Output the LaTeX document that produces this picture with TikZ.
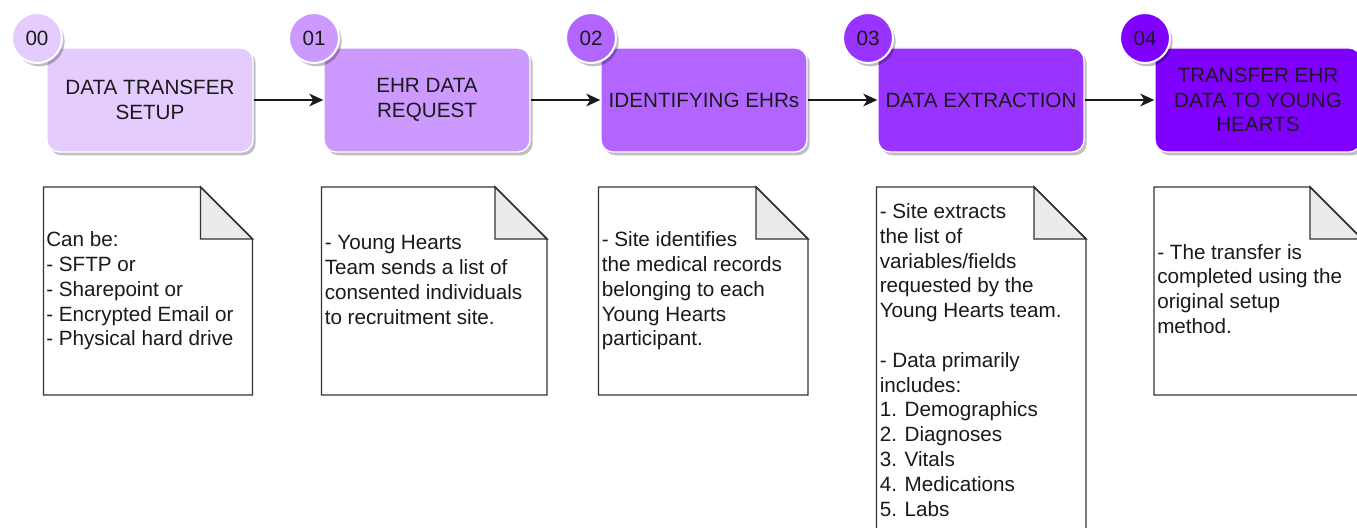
\documentclass[tikz,border=0pt]{standalone}
\usepackage{fontspec}
\setmainfont{Liberation Sans}
\usetikzlibrary{arrows.meta,shadows}
\definecolor{pa}{HTML}{E5CCFF}
\definecolor{pb}{HTML}{CC99FF}
\definecolor{pc}{HTML}{B266FF}
\definecolor{pd}{HTML}{9933FF}
\definecolor{pe}{HTML}{7F00FF}
\definecolor{docline}{HTML}{333333}
\definecolor{foldgray}{HTML}{EBEBEB}
\definecolor{ink}{HTML}{1A1A1A}
\begin{document}
\begin{tikzpicture}[x=0.75pt,y=-0.75pt,
  txt/.style={font=\fontsize{15.5}{18.6}\selectfont, text=ink},
  softshadow/.style={drop shadow={shadow xshift=2pt,shadow yshift=-2.5pt,opacity=0.25,fill=black}},
  stepbox/.style={txt, rounded corners=9pt, draw=white, line width=1pt,
    minimum width=154.5pt, minimum height=78pt, align=center, inner sep=0pt, softshadow},
  numcirc/.style={txt, circle, draw=white, line width=1.5pt, minimum size=37.5pt,
    inner sep=0pt, softshadow},
  docshape/.style={draw=docline, line width=1.1pt, fill=white, line join=miter},
  foldshape/.style={draw=docline, line width=1.1pt, fill=foldgray, line join=miter},
  doctext/.style={txt, anchor=west, align=left, inner sep=0pt},
  flow/.style={-{Stealth[length=10.5pt,width=9.5pt,inset=3pt]}, line width=1.4pt, draw=ink}]
\useasboundingbox (0,0) rectangle (1357,528);
\clip (0,0) rectangle (1357,528);

% step boxes
\node[stepbox, fill=pa] (b0) at (150,100) {DATA TRANSFER\\SETUP};
\node[stepbox, fill=pb] (b1) at (427,100) {EHR DATA\\REQUEST};
\node[stepbox, fill=pc] (b2) at (704,100) {IDENTIFYING EHRs};
\node[stepbox, fill=pd] (b3) at (981,100) {DATA EXTRACTION};
\node[stepbox, fill=pe] (b4) at (1258,100) {TRANSFER EHR\\DATA TO YOUNG\\HEARTS};

% number circles
\node[numcirc, fill=pa] (c0) at (37,38) {00};
\node[numcirc, fill=pb] (c1) at (314,38) {01};
\node[numcirc, fill=pc] (c2) at (591,38) {02};
\node[numcirc, fill=pd] (c3) at (868,38) {03};
\node[numcirc, fill=pe] (c4) at (1145,38) {04};

% connectors
\draw[flow] (b0.east) -- (b1.west);
\draw[flow] (b1.east) -- (b2.west);
\draw[flow] (b2.east) -- (b3.west);
\draw[flow] (b3.east) -- (b4.west);

% note documents
\foreach \L/\R/\B in {43.5/252.5/395, 321.5/547/395, 598.5/808/395, 876.5/1086/540, 1154/1362/395}{
  \draw[docshape] (\L,187) -- (\R-52,187) -- (\R,239) -- (\R,\B) -- (\L,\B) -- cycle;
  \draw[foldshape] (\R-52,187) -- (\R-52,239) -- (\R,239) -- cycle;
}

% note texts
\node[doctext] (t0) at (46,291) {Can be:\\- SFTP or\\- Sharepoint or\\- Encrypted Email or\\- Physical hard drive};
\node[doctext] (t1) at (324.5,280) {- Young Hearts\\Team sends a list of\\consented individuals\\to recruitment site.};
\node[doctext] (t2) at (601.5,291) {- Site identifies\\the medical records\\belonging to each\\Young Hearts\\participant.};
\node[doctext] (t3) at (879.5,360) {- Site extracts\\the list of\\variables/fields\\requested by the\\Young Hearts team.\\\mbox{}\\- Data primarily\\includes:\\1. Demographics\\2. Diagnoses\\3. Vitals\\4. Medications\\5. Labs};
\node[doctext] (t4) at (1157,289) {- The transfer is\\completed using the\\original setup\\method.};
\end{tikzpicture}
\end{document}
